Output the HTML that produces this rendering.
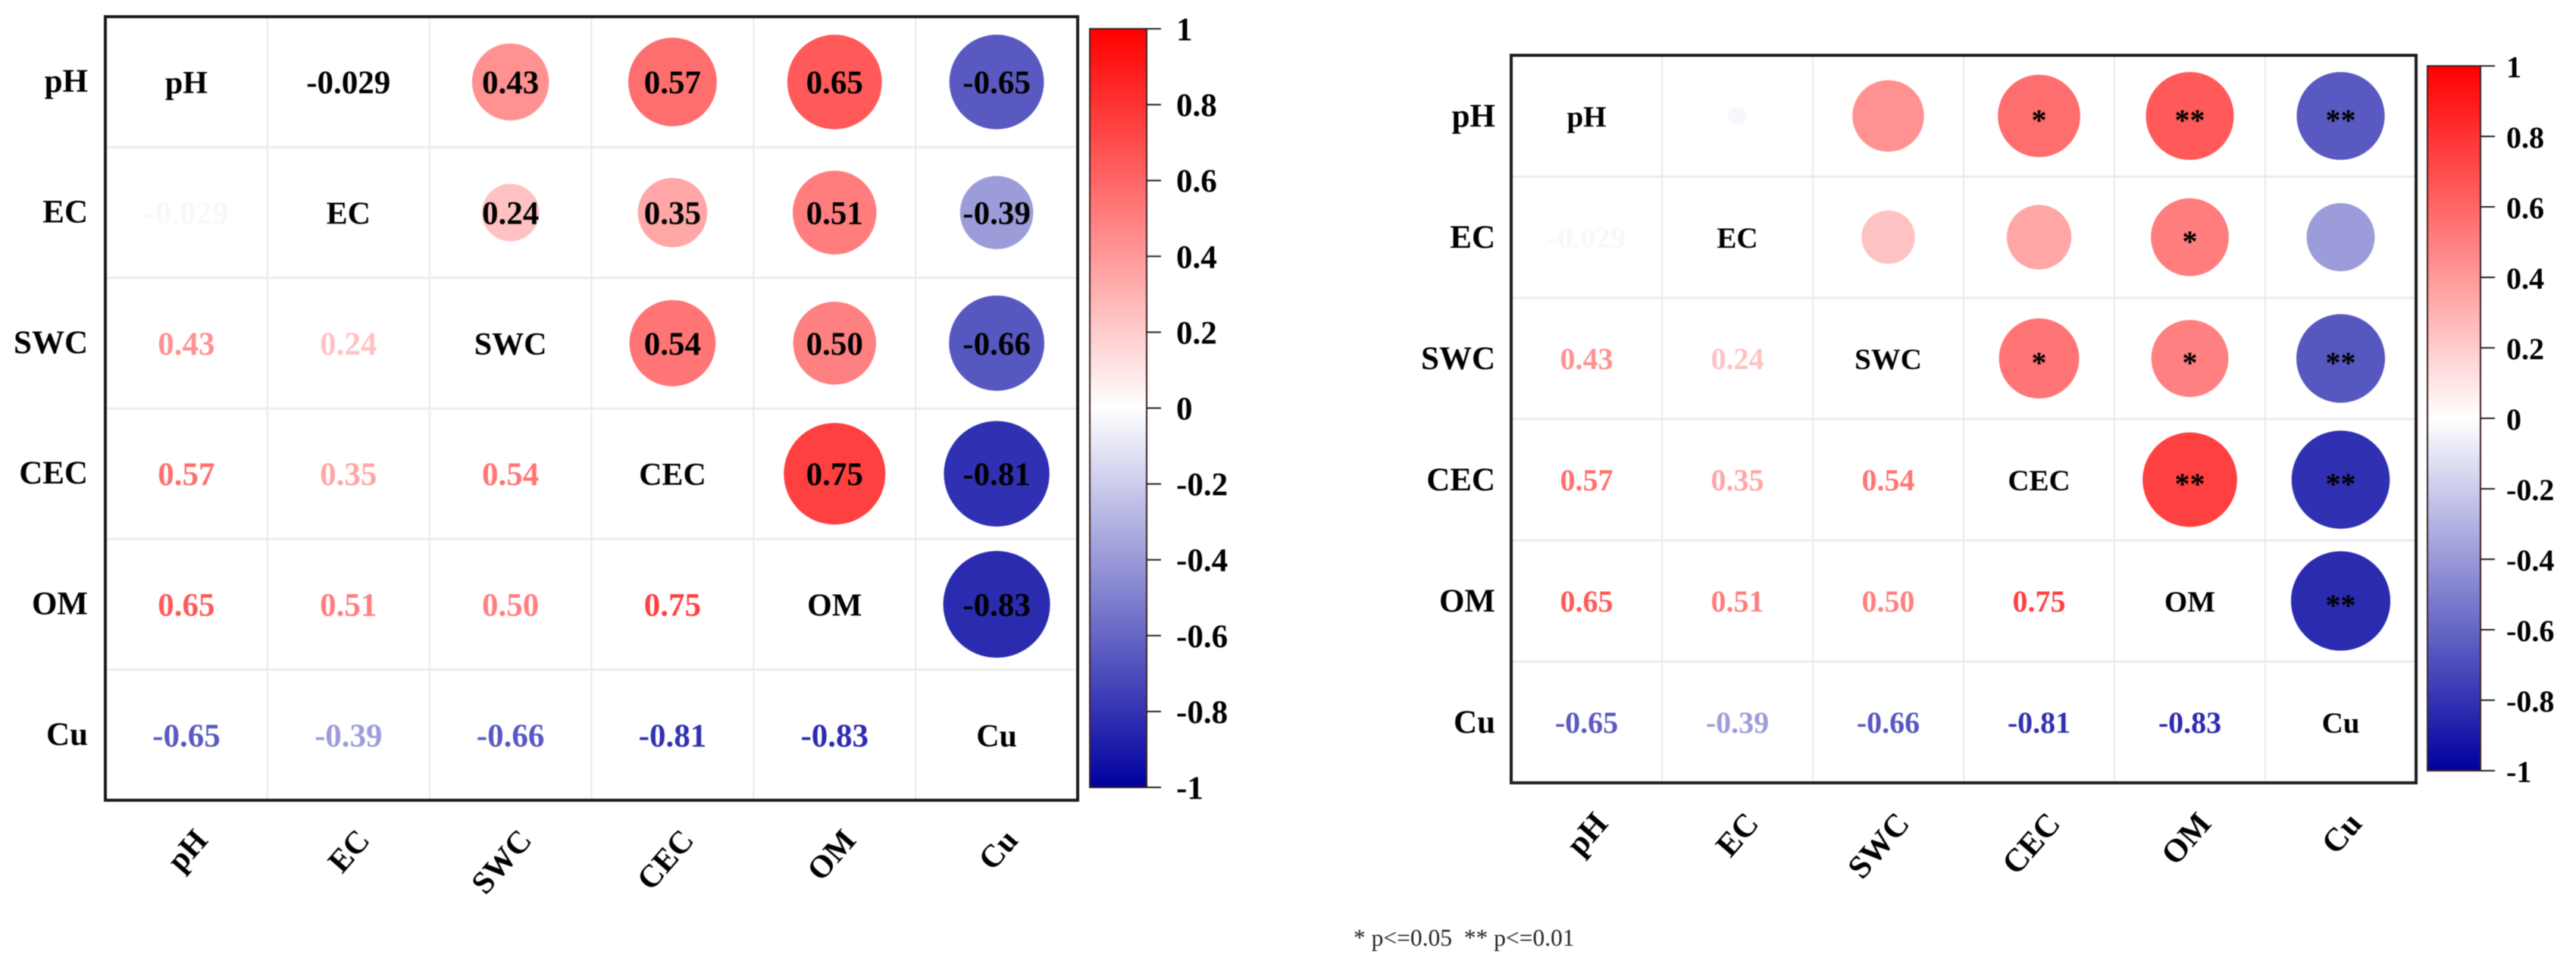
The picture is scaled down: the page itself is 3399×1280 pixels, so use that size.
<!DOCTYPE html>
<html lang="en">
<head>
<meta charset="utf-8">
<title>Correlation matrices</title>
<style>
html,body{margin:0;padding:0;background:#fff;width:3399px;height:1280px;overflow:hidden}
svg{display:block;filter:blur(0.6px)}
text{font-family:"Liberation Serif",serif;font-weight:bold}
</style>
</head>
<body>
<svg id="figure" xmlns="http://www.w3.org/2000/svg" width="3399" height="1280" viewBox="0 0 3399 1280">
  <defs id="defs"></defs>
  <rect x="0" y="0" width="3399" height="1280" fill="#fff"></rect>
  <text x="1786" y="1248" font-size="31.5" style="font-weight:normal;white-space:pre" fill="#222">* p&lt;=0.05  ** p&lt;=0.01</text>
</svg>
<script>
const variableNames = ['pH', 'EC', 'SWC', 'CEC', 'OM', 'Cu'];
const valuesPH  = [1, -0.029, 0.43, 0.57, 0.65, -0.65];
const valuesEC  = [-0.029, 1, 0.24, 0.35, 0.51, -0.39];
const valuesSWC = [0.43, 0.24, 1, 0.54, 0.50, -0.66];
const valuesCEC = [0.57, 0.35, 0.54, 1, 0.75, -0.81];
const valuesOM  = [0.65, 0.51, 0.50, 0.75, 1, -0.83];
const valuesCu  = [-0.65, -0.39, -0.66, -0.81, -0.83, 1];
const starsPH  = ['', '', '', '*', '**', '**'];
const starsEC  = ['', '', '', '', '*', ''];
const starsSWC = ['', '', '', '*', '*', '**'];
const starsCEC = ['*', '', '*', '', '**', '**'];
const starsOM  = ['**', '*', '*', '**', '', '**'];
const starsCu  = ['**', '', '**', '**', '**', ''];
const colorbarTicks = [1, 0.8, 0.6, 0.4, 0.2, 0, -0.2, -0.4, -0.6, -0.8, -1];

const matrix = [valuesPH, valuesEC, valuesSWC, valuesCEC, valuesOM, valuesCu];
const stars = [starsPH, starsEC, starsSWC, starsCEC, starsOM, starsCu];
const NS = 'http://www.w3.org/2000/svg';
const svg = document.getElementById('figure');

function el(parent, tag, attrs, txt) {
  const e = document.createElementNS(NS, tag);
  for (const k in attrs) e.setAttribute(k, attrs[k]);
  if (txt !== undefined) e.textContent = txt;
  parent.appendChild(e);
  return e;
}
function colorOf(v) {
  const t = Math.min(1, Math.abs(v));
  const c = Math.round(255 * (1 - t));
  if (v >= 0) return 'rgb(255,' + c + ',' + c + ')';
  const b = Math.round(255 - t * 95);
  return 'rgb(' + c + ',' + c + ',' + b + ')';
}
function formatValue(v) {
  return Math.abs(v) < 0.1 ? v.toFixed(3) : v.toFixed(2);
}

function drawPanel(cfg) {
  const g = el(svg, 'g', {});
  
  
  const n = variableNames.length;
  const cw = (cfg.right - cfg.left) / n;
  const ch = (cfg.bottom - cfg.top) / n;
  const xc = i => cfg.left + (i + 0.5) * cw;
  const yc = i => cfg.top + (i + 0.5) * ch;

  for (let i = 1; i < n; i++) {
    const vl = el(g, 'line', {x1: cfg.left + i * cw, x2: cfg.left + i * cw, y1: cfg.top, y2: cfg.bottom, stroke: '#e9e9e9', 'stroke-width': 2});
    
    
    const hl = el(g, 'line', {x1: cfg.left, x2: cfg.right, y1: cfg.top + i * ch, y2: cfg.top + i * ch, stroke: '#ececec', 'stroke-width': 3});
    
    
  }

  for (let r = 0; r < n; r++) {
    for (let c = 0; c < n; c++) {
      const v = matrix[r][c];
      const base = {x: xc(c), y: yc(r) + cfg.cellBase, 'text-anchor': 'middle', 'font-size': cfg.cellFont};
      if (r === c) {
        const d = el(g, 'text', Object.assign({fill: '#000'}, base, {'font-size': cfg.diagFont}), variableNames[r]);
        
        
      } else if (c > r) {
        const circle = el(g, 'circle', {cx: xc(c), cy: yc(r), r: cfg.radiusK * Math.sqrt(Math.abs(v)), fill: colorOf(v)});
        
        
        if (cfg.showStars) {
          if (stars[r][c]) {
            const s = el(g, 'text', {x: xc(c), y: yc(r) + 19, 'text-anchor': 'middle', 'font-size': 40, fill: '#000'}, stars[r][c]);
            
            
          }
        } else {
          const t = el(g, 'text', Object.assign({fill: '#000'}, base), formatValue(v));
          
          
        }
      } else {
        const t = el(g, 'text', Object.assign({fill: colorOf(v)}, base), formatValue(v));
        
        
      }
    }
  }

  const frame = el(g, 'rect', {x: cfg.left, y: cfg.top, width: cfg.right - cfg.left, height: cfg.bottom - cfg.top, fill: 'none', stroke: '#1a1a1a', 'stroke-width': 4});
  
  

  variableNames.forEach((name, i) => {
    const yl = el(g, 'text', {x: cfg.rowLabelX, y: yc(i) + cfg.rowBase, 'text-anchor': 'end', 'font-size': 43, fill: '#000'}, name);
    
    
    const px = xc(i) + cfg.xLabelDx, py = cfg.xLabelY;
    const xl = el(g, 'text', {x: px, y: py, 'text-anchor': 'end', 'font-size': cfg.xLabelFont, fill: '#000', transform: 'rotate(-49 ' + px + ' ' + py + ')'}, name);
    
    
  });

  const defs = document.getElementById('defs');
  const grad = el(defs, 'linearGradient', {id: cfg.id + '-grad', x1: 0, y1: 0, x2: 0, y2: 1});
  colorbarTicks.forEach((t, i) => {
    el(grad, 'stop', {offset: i / (colorbarTicks.length - 1), 'stop-color': colorOf(t)});
  });
  const yBar = v => cfg.barTop + (1 - v) / 2 * (cfg.barBottom - cfg.barTop);
  const bar = el(g, 'rect', {x: cfg.barLeft, y: cfg.barTop, width: cfg.barRight - cfg.barLeft, height: cfg.barBottom - cfg.barTop, fill: 'url(#' + cfg.id + '-grad)', stroke: '#3a2020', 'stroke-width': 2});
  
  
  colorbarTicks.forEach(t => {
    const tk = el(g, 'line', {x1: cfg.barRight, x2: cfg.barRight + 19, y1: yBar(t), y2: yBar(t), stroke: '#222', 'stroke-width': 2});
    
    
    const lb = el(g, 'text', {x: cfg.barLabelX, y: yBar(t) + 15, 'font-size': cfg.barFont, fill: '#000'}, String(t));
    
    
  });
}

drawPanel({id: 'left', left: 139, right: 1422, top: 22, bottom: 1056, radiusK: 77.4, showStars: false,
  cellFont: 43, diagFont: 42, cellBase: 15, rowBase: 13, rowLabelX: 116, xLabelDx: 30, xLabelY: 1110, xLabelFont: 42,
  barLeft: 1438, barRight: 1513, barTop: 38, barBottom: 1039, barLabelX: 1552, barFont: 43});
drawPanel({id: 'right', left: 1994, right: 3188, top: 73, bottom: 1033, radiusK: 72, showStars: true,
  cellFont: 40, diagFont: 39, cellBase: 14, rowBase: 14, rowLabelX: 1973, xLabelDx: 30, xLabelY: 1088, xLabelFont: 43,
  barLeft: 3203, barRight: 3273, barTop: 87, barBottom: 1017, barLabelX: 3307, barFont: 40});
</script>
</body>
</html>
